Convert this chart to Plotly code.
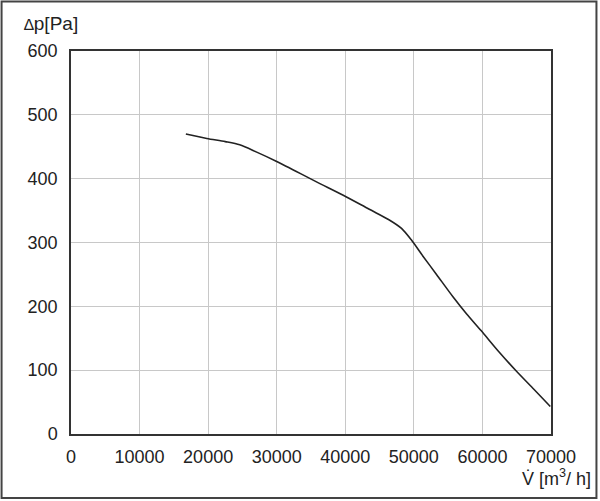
import plotly.graph_objects as go

flow = [16750, 19800, 22500, 24600, 27000, 30000, 35800, 39700, 43500, 46300, 48200, 49700,
        51300, 53300, 55700, 57700, 59800, 62300, 64900, 67500, 69900]
pressure = [470, 463, 458, 453, 442, 427, 395, 374, 352, 336, 322, 303,
            279, 250, 215, 188, 162, 130, 99, 70, 43]

x_ticks = [0, 10000, 20000, 30000, 40000, 50000, 60000, 70000]
y_ticks = [0, 100, 200, 300, 400, 500, 600]

fig = go.Figure()
fig.add_trace(go.Scatter(x=flow, y=pressure, mode="lines",
                         line=dict(color="#222222", width=1.6, shape="spline", smoothing=0.8),
                         showlegend=False, hoverinfo="skip"))

font = dict(family="Liberation Sans, Arial, sans-serif", size=18, color="#222222")
title_font = dict(family="Liberation Sans, Arial, sans-serif", size=19, color="#222222")
fig.update_layout(
    width=600, height=501,
    margin=dict(l=71, r=48.5, t=51, b=67),
    paper_bgcolor="white", plot_bgcolor="white",
    font=font,
    xaxis=dict(range=[0, 70000], tickvals=x_ticks, ticktext=[str(v) for v in x_ticks],
               showgrid=True, gridcolor="#c8c8c8", gridwidth=1,
               showline=True, linecolor="#333333", linewidth=1.5, mirror=True,
               zeroline=False, ticks="", ticklabelstandoff=6),
    yaxis=dict(range=[0, 600], tickvals=y_ticks, ticktext=[str(v) for v in y_ticks],
               showgrid=True, gridcolor="#c8c8c8", gridwidth=1,
               showline=True, linecolor="#333333", linewidth=1.5, mirror=True,
               zeroline=False, ticks="", ticklabelstandoff=8),
    shapes=[dict(type="rect", xref="paper", yref="paper",
                 x0=(1.5 - 71) / 480.5, x1=(597 - 71) / 480.5,
                 y0=(434 - 498) / 383, y1=(434 - 1.5) / 383,
                 line=dict(color="#444444", width=2))],
    annotations=[
        dict(xref="paper", yref="paper", x=(22 - 71) / 480.5, y=(434 - 24) / 383,
             xanchor="left", yanchor="middle", showarrow=False,
             text="<span style='font-size:16px'>∆</span>p[Pa]", font=title_font),
        dict(xref="paper", yref="paper", x=(594 - 71) / 480.5, y=(434 - 477) / 383,
             xanchor="right", yanchor="middle", showarrow=False,
             text="V̇ [m<sup>3</sup>/ h]", font=font),
    ],
)

fig.write_html("out.html")
